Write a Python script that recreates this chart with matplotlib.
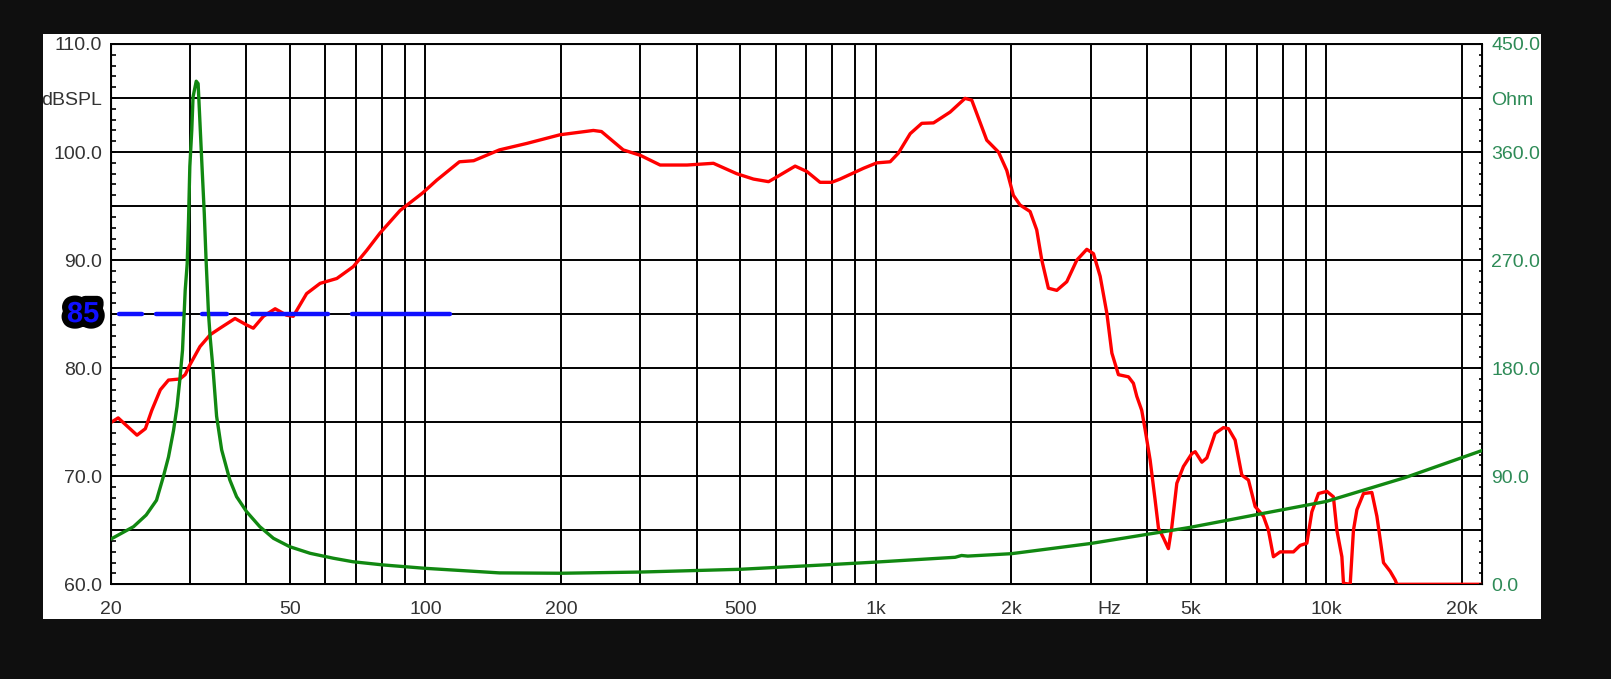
import numpy as np
import matplotlib
matplotlib.use("Agg")
import matplotlib.pyplot as plt
import matplotlib.patheffects as pe
from matplotlib.ticker import MultipleLocator, NullLocator

plt.rcParams['font.family'] = ['Liberation Sans', 'DejaVu Sans']

# SPL response (red), dB
spl_freq = [20, 20.8, 21.7, 22.9, 23.9, 24.7, 25.8, 26.9, 28.5, 29.3, 30.0, 31.6, 33.3, 35.0,
            37.8, 40.1, 41.5, 43.7, 46.4, 49.2, 50.9, 54.5, 58.4, 63.6, 69.2, 74.1, 79.3, 87.9,
            98.5, 106, 119, 128, 146, 168, 199, 236, 246, 275, 300, 332, 381, 436, 491, 535,
            578, 603, 662, 703, 752, 798, 833, 939, 1005, 1076, 1122, 1192, 1265, 1343, 1462,
            1578, 1633, 1763, 1872, 1953, 2020, 2090, 2200, 2276, 2336, 2416, 2522, 2654, 2794,
            2940, 3042, 3148, 3257, 3342, 3456, 3638, 3731, 3796, 3893, 3962, 4064, 4169, 4241,
            4350, 4462, 4540, 4658, 4818, 5030, 5117, 5294, 5431, 5666, 5912, 6066, 6275, 6494,
            6718, 6952, 7252, 7440, 7632, 7900, 8455, 8750, 9054, 9288, 9608, 10030, 10370,
            10556, 10830, 10918, 11300, 11490, 11694, 12096, 12624, 12952, 13398, 13862, 14222,
            14346, 22200]
spl_db = [74.95, 75.4, 74.7, 73.8, 74.4, 76.1, 78.0, 78.9, 79.0, 79.4, 80.3, 82.0, 83.1, 83.7,
          84.6, 84.0, 83.7, 84.8, 85.5, 84.9, 84.8, 86.9, 87.85, 88.3, 89.4, 90.9, 92.5, 94.6,
          96.2, 97.4, 99.1, 99.2, 100.2, 100.8, 101.6, 102.0, 101.9, 100.2, 99.7, 98.8, 98.8,
          98.96, 98.0, 97.5, 97.26, 97.7, 98.7, 98.2, 97.2, 97.2, 97.5, 98.5, 99.0, 99.1, 99.9,
          101.7, 102.66, 102.7, 103.7, 104.97, 104.8, 101.1, 100.0, 98.3, 96.0, 95.1, 94.5,
          92.8, 90.0, 87.4, 87.2, 88.0, 90.0, 91.0, 90.6, 88.5, 85.1, 81.4, 79.4, 79.2, 78.6,
          77.4, 76.1, 74.3, 71.5, 67.8, 65.2, 64.3, 63.3, 65.3, 69.35, 70.9, 72.1, 72.27, 71.3,
          71.7, 73.97, 74.5, 74.4, 73.35, 70.1, 69.65, 67.2, 66.3, 65.0, 62.55, 63.0, 63.0,
          63.6, 63.8, 66.7, 68.4, 68.6, 68.1, 65.0, 62.55, 60.1, 60.0, 65.0, 66.9, 68.4, 68.5,
          66.3, 62.0, 61.2, 60.4, 60.0, 60.0]

# impedance (green), Ohm
imp_freq = [20, 22.5, 24, 25.3, 26.2, 26.9, 27.6, 28.1, 28.5, 28.9, 29.3, 29.6, 29.8, 30.0,
            30.3, 30.5, 31.0, 31.3, 31.6, 31.9, 32.3, 32.6, 33.0, 33.3, 33.8, 34.4, 35.3, 36.8,
            38.1, 40.1, 42.9, 46, 50, 55.5, 62.5, 69, 80.7, 100, 146, 200, 300, 500, 800, 1000,
            1500, 1550, 1600, 2000, 3000, 5000, 7000, 10000, 15000, 20000, 22200]
imp_ohm = [37.5, 48, 57.7, 70, 89.6, 106, 128, 148, 170, 195, 245, 267, 303, 348, 378, 406,
           419, 417, 384, 351, 309, 270, 226, 205, 178, 140, 112, 87, 73, 60.5, 48, 38.3, 31.3,
           25.8, 21.7, 18.8, 16.1, 13.3, 9.5, 9.2, 10.2, 12.5, 16.5, 18.5, 22.5, 24, 23.5, 25.5,
           34, 47.5, 58, 69, 89, 105.5, 111.5]

# blue 85 dB reference marker
ref_level = 85
ref_start = [20.9, 25.2, 32.0, 41.3, 68.6]
ref_end = [23.45, 29.0, 36.2, 60.9, 113.5]

x_labels = {20: "20", 50: "50", 100: "100", 200: "200", 500: "500", 1000: "1k",
            2000: "2k", 5000: "5k", 10000: "10k", 20000: "20k"}
db_ticks = np.arange(60, 111, 5)
db_labels = ["60.0", "", "70.0", "", "80.0", "", "90.0", "", "100.0", "dBSPL", "110.0"]
ohm_ticks = np.arange(0, 451, 45)
ohm_labels = ["0.0", "", "90.0", "", "180.0", "", "270.0", "", "360.0", "Ohm", "450.0"]

W, H = 1611, 679
fig = plt.figure(figsize=(W / 100, H / 100), dpi=100, facecolor="#0f0f0f")

# white panel behind the plot
bg = fig.add_axes([43 / W, 1 - 619 / H, (1541 - 43) / W, (619 - 34) / H])
bg.set_facecolor("white")
bg.set_xticks([])
bg.set_yticks([])
for s in bg.spines.values():
    s.set_visible(False)

ax = fig.add_axes([110.5 / W, 1 - 584.3 / H, (1482.3 - 110.5) / W, (584.3 - 44) / H])
ax.set_facecolor("white")
ax.set_xscale("log")
ax.set_xlim(20, 22200)
ax.set_ylim(60, 110)

grid_f = [m * 10 ** e for e in range(1, 5) for m in range(1, 10) if 20 <= m * 10 ** e <= 22200]
ax.set_xticks(grid_f)
ax.set_xticklabels([x_labels.get(f, "") for f in grid_f])
ax.xaxis.set_minor_locator(NullLocator())
ax.tick_params(axis="x", length=0, pad=12, labelsize=14, labelcolor="#333333")

ax.set_yticks(db_ticks)
ax.set_yticklabels(db_labels)
ax.yaxis.set_minor_locator(MultipleLocator(1))
ax.tick_params(axis="y", which="both", direction="in", length=3.4, width=1.2,
               pad=6.0, labelsize=14, labelcolor="#333333", left=True, right=False)
ax.grid(True, which="major", color="black", lw=1.4)
for s in ax.spines.values():
    s.set_color("black")
    s.set_linewidth(1.4)

ax.annotate("Hz", xy=(3300, 0), xycoords=("data", "axes fraction"), xytext=(0, -12),
            textcoords="offset points", ha="center", va="top", fontsize=14, color="#333333")

ax.plot(spl_freq, spl_db, color="#ff0000", lw=2.4, zorder=3)
ax.hlines([ref_level] * len(ref_start), ref_start, ref_end, colors="#1010ff", lw=3.2,
          capstyle="round", zorder=4)
ax.text(-0.02, ref_level, "85", transform=ax.get_yaxis_transform(), ha="center", va="center",
        fontsize=21, fontweight="bold", color="#1010ff", clip_on=False,
        path_effects=[pe.withStroke(linewidth=9, foreground="black")])

ax2 = ax.twinx()
ax2.set_ylim(0, 450)
ax2.set_yticks(ohm_ticks)
ax2.set_yticklabels(ohm_labels)
ax2.yaxis.set_minor_locator(MultipleLocator(9))
ax2.tick_params(axis="y", which="both", direction="in", length=2.4, width=1.2,
                pad=6.5, labelsize=14, labelcolor="#2e8b57")
ax2.plot(imp_freq, imp_ohm, color="#118811", lw=2.4, zorder=3)

fig.savefig("out.png", dpi=100, facecolor=fig.get_facecolor())
